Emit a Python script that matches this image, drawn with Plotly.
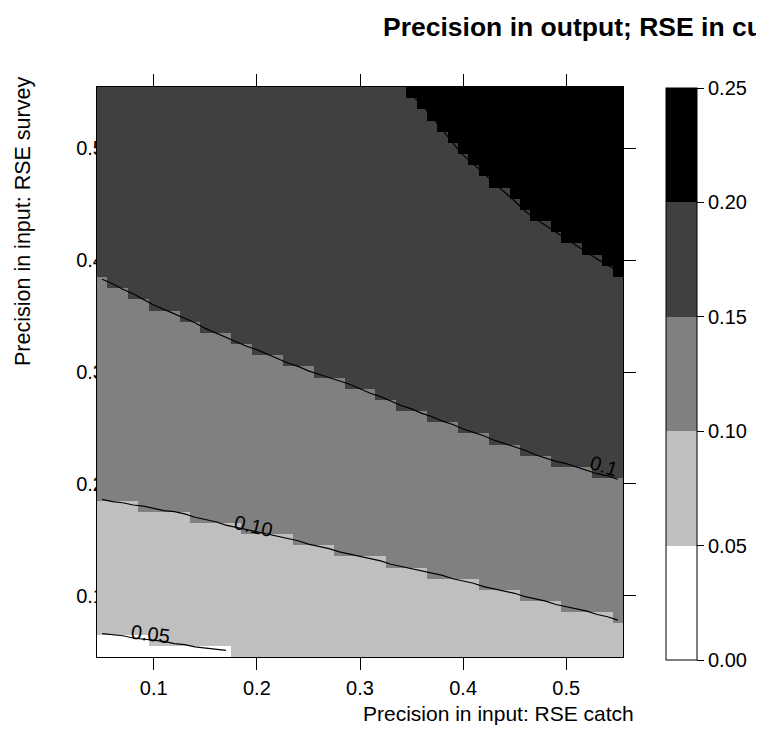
import plotly.graph_objects as go

# ---------------- data ----------------
RSE_CATCH = [0.05, 0.06, 0.07, 0.08, 0.09, 0.10, 0.11, 0.12, 0.13, 0.14,
             0.15, 0.16, 0.17, 0.18, 0.19, 0.20, 0.21, 0.22, 0.23, 0.24,
             0.25, 0.26, 0.27, 0.28, 0.29, 0.30, 0.31, 0.32, 0.33, 0.34,
             0.35, 0.36, 0.37, 0.38, 0.39, 0.40, 0.41, 0.42, 0.43, 0.44,
             0.45, 0.46, 0.47, 0.48, 0.49, 0.50, 0.51, 0.52, 0.53, 0.54, 0.55]
RSE_SURVEY = list(RSE_CATCH)

# RSE survey at which the output RSE reaches each contour level, per RSE catch column
LEVEL_005 = [0.066, 0.065, 0.064, 0.062, 0.061, 0.060, 0.059, 0.057, 0.056,
             0.054, 0.053, 0.052, 0.051]                       # catch 0.05 .. 0.17
LEVEL_010 = [0.186, 0.184, 0.183, 0.181, 0.180, 0.178, 0.176, 0.175, 0.173, 0.170,
             0.168, 0.166, 0.163, 0.161, 0.159, 0.157, 0.155, 0.153, 0.151, 0.149,
             0.146, 0.144, 0.142, 0.139, 0.137, 0.135, 0.133, 0.131, 0.128, 0.126,
             0.124, 0.122, 0.120, 0.118, 0.115, 0.113, 0.111, 0.108, 0.106, 0.104,
             0.102, 0.099, 0.097, 0.095, 0.092, 0.090, 0.088, 0.086, 0.083, 0.081, 0.078]
LEVEL_015 = [0.383, 0.379, 0.374, 0.370, 0.365, 0.360, 0.356, 0.352, 0.348, 0.344,
             0.339, 0.335, 0.331, 0.327, 0.323, 0.320, 0.316, 0.312, 0.308, 0.305,
             0.301, 0.298, 0.295, 0.292, 0.289, 0.285, 0.281, 0.278, 0.274, 0.270,
             0.267, 0.263, 0.260, 0.256, 0.253, 0.249, 0.246, 0.243, 0.239, 0.236,
             0.233, 0.230, 0.226, 0.223, 0.220, 0.218, 0.215, 0.212, 0.209, 0.207, 0.204]
LEVEL_020 = [0.548, 0.539, 0.528, 0.516, 0.505, 0.494, 0.486, 0.478, 0.469, 0.461,
             0.453, 0.444, 0.437, 0.431, 0.425, 0.419, 0.413, 0.407, 0.401, 0.396, 0.390]
                                                              # catch 0.35 .. 0.55
BREAKS = [0.00, 0.05, 0.10, 0.15, 0.20, 0.25]
BREAK_LABELS = ["0.00", "0.05", "0.10", "0.15", "0.20", "0.25"]
CLASS_MID = [0.025, 0.075, 0.125, 0.175, 0.225]
GREYS = ["#FFFFFF", "#BFBFBF", "#808080", "#404040", "#000000"]
AXIS_TICKS = [0.1, 0.2, 0.3, 0.4, 0.5]
AXIS_TICK_LABELS = ["0.1", "0.2", "0.3", "0.4", "0.5"]

# ---------------- grid of output-precision classes ----------------
n05 = len(LEVEL_005)
start20 = len(RSE_CATCH) - len(LEVEL_020)
Z = []
for yv in RSE_SURVEY:
    row = []
    for i, xv in enumerate(RSE_CATCH):
        if i < n05 and yv < LEVEL_005[i]:
            c = 0
        elif yv < LEVEL_010[i]:
            c = 1
        elif yv < LEVEL_015[i]:
            c = 2
        elif i < start20 or yv < LEVEL_020[i - start20]:
            c = 3
        else:
            c = 4
        row.append(CLASS_MID[c])
    Z.append(row)

# page body has an 8px margin: figure is placed at (8, 8) in the window
OFF = 8
W, H = 756, 732
def fx(p):
    return (p - OFF) / W
def fy(p):
    return 1 - (p - OFF) / H

XDOM = [fx(97), fx(623)]
YDOM = [fy(657), fy(87)]
RANGE = [0.045, 0.555]
FONT = "Liberation Sans, Arial, sans-serif"

cs = []
for k, g in enumerate(GREYS):
    cs.append([k / 5, g])
    cs.append([(k + 1) / 5, g])

fig = go.Figure()

# subplot holding only the left tick labels (drawn underneath the panel)
fig.add_trace(go.Scatter(x=[], y=[], xaxis="x", yaxis="y", showlegend=False,
                         hoverinfo="skip"))

fig.add_trace(go.Heatmap(
    x=RSE_CATCH, y=RSE_SURVEY, z=Z, zmin=BREAKS[0], zmax=BREAKS[-1],
    colorscale=cs, xaxis="x2", yaxis="y2", hoverinfo="skip",
    colorbar=dict(
        x=fx(666), xanchor="left", y=fy(660), yanchor="bottom",
        len=572, lenmode="pixels", thickness=31, thicknessmode="pixels",
        xpad=0, ypad=0, outlinewidth=1, outlinecolor="black", borderwidth=0,
        tickvals=BREAKS, ticktext=BREAK_LABELS, ticks="outside", ticklen=7,
        tickcolor="black", tickwidth=1,
        tickfont=dict(family=FONT, size=20, color="black"),
    ),
))

line_style = dict(color="black", width=1.2)
fig.add_trace(go.Scatter(x=RSE_CATCH[:n05], y=LEVEL_005, mode="lines", line=line_style,
                         xaxis="x2", yaxis="y2", showlegend=False, hoverinfo="skip"))
fig.add_trace(go.Scatter(x=RSE_CATCH, y=LEVEL_010, mode="lines", line=line_style,
                         xaxis="x2", yaxis="y2", showlegend=False, hoverinfo="skip"))
fig.add_trace(go.Scatter(x=RSE_CATCH, y=LEVEL_015, mode="lines", line=line_style,
                         xaxis="x2", yaxis="y2", showlegend=False, hoverinfo="skip"))
fig.add_trace(go.Scatter(x=RSE_CATCH[start20:], y=LEVEL_020, mode="lines", line=line_style,
                         xaxis="x2", yaxis="y2", showlegend=False, hoverinfo="skip"))

tickfont = dict(family=FONT, size=20, color="black")

fig.update_layout(
    width=W, height=H,
    margin=dict(l=0, r=0, t=0, b=0),
    paper_bgcolor="white", plot_bgcolor="white",
    showlegend=False,
    font=dict(family=FONT, color="black"),
    xaxis=dict(domain=XDOM, range=RANGE, anchor="y", visible=False),
    yaxis=dict(domain=YDOM, range=RANGE, anchor="free", position=fx(104), side="left",
               tickvals=AXIS_TICKS, ticktext=AXIS_TICK_LABELS, ticks="",
               showline=False, showgrid=False, zeroline=False, tickfont=tickfont),
    xaxis2=dict(domain=XDOM, range=RANGE, anchor="y2",
                tickvals=AXIS_TICKS, ticktext=AXIS_TICK_LABELS,
                ticks="outside", ticklen=12, tickwidth=1, tickcolor="black",
                showline=True, linecolor="black", linewidth=1, mirror="ticks",
                showgrid=False, zeroline=False, tickfont=tickfont,
                ticklabelstandoff=1),
    yaxis2=dict(domain=YDOM, range=RANGE, anchor="x2", side="right",
                tickvals=AXIS_TICKS, ticks="outside", ticklen=12, tickwidth=1,
                tickcolor="black", showticklabels=False,
                showline=True, linecolor="black", linewidth=1, mirror=True,
                showgrid=False, zeroline=False),
)

lab = dict(family=FONT, size=20, color="black")
ann = []
# contour labels
ann.append(dict(x=0.097, y=0.0656, xref="x2", yref="y2", text="0.05", showarrow=False,
                xanchor="center", yanchor="middle", textangle=7, font=lab))
ann.append(dict(x=0.1967, y=0.1624, xref="x2", yref="y2", text="0.10", showarrow=False,
                xanchor="center", yanchor="middle", textangle=13, font=lab))
ann.append(dict(x=0.5367, y=0.2162, xref="x2", yref="y2", text="0.1", showarrow=False,
                xanchor="center", yanchor="middle", textangle=17, font=lab))
# titles
ann.append(dict(x=fx(381), y=fy(27), xref="paper", yref="paper", xanchor="left",
                yanchor="middle", showarrow=False,
                text="<b>Precision in output; RSE in current biomass</b>",
                font=dict(family=FONT, size=26.5, color="black")))
ann.append(dict(x=fx(499), y=fy(713), xref="paper", yref="paper", showarrow=False,
                xanchor="center", yanchor="middle",
                text="Precision in input: RSE catch",
                font=dict(family=FONT, size=21, color="black")))
ann.append(dict(x=fx(23), y=fy(222), xref="paper", yref="paper", showarrow=False,
                xanchor="center", yanchor="middle",
                textangle=-90, text="Precision in input: RSE survey",
                font=dict(family=FONT, size=21.5, color="black")))
fig.update_layout(annotations=ann)

fig.write_html("out.html")
